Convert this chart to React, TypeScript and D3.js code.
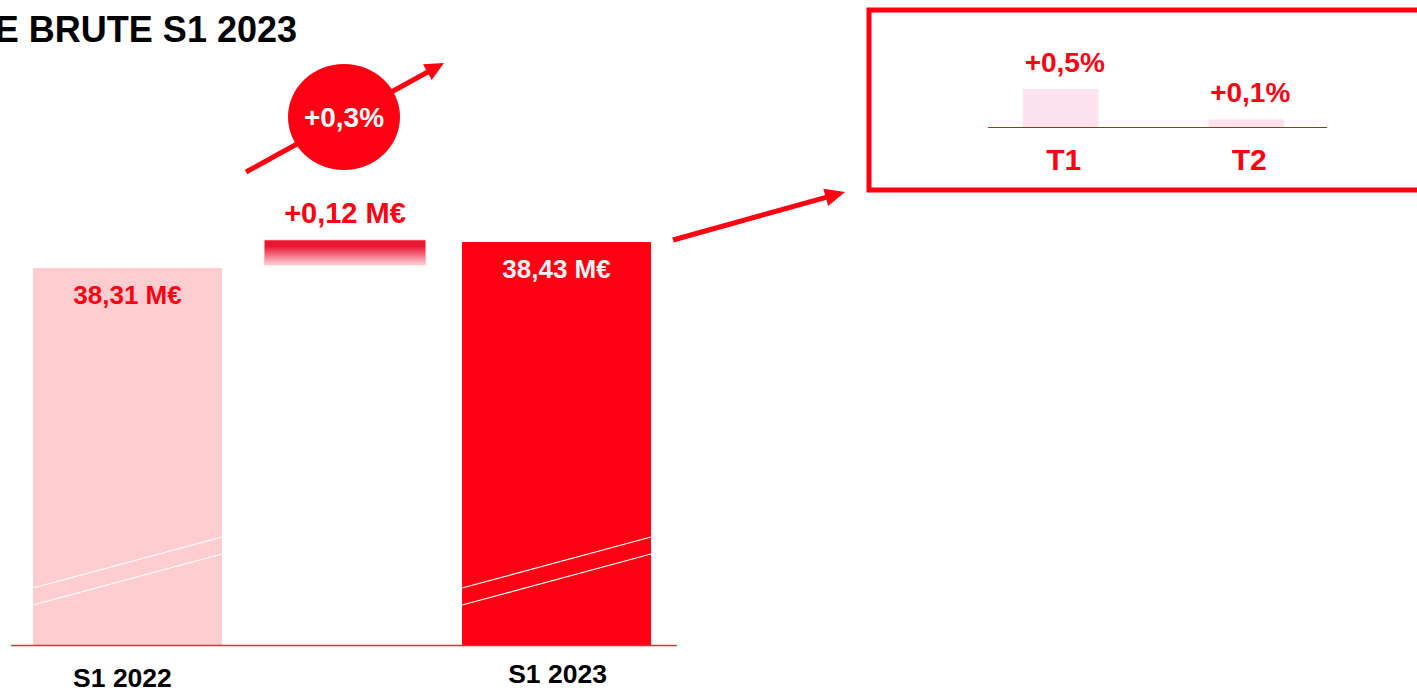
import React from "react";
import * as d3 from "d3";

// ---- data ----
const titleText = "E BRUTE S1 2023";
const periods = ["S1 2022", "S1 2023"];
const periodValues = [38.31, 38.43];
const periodValueLabels = ["38,31 M€", "38,43 M€"];
const deltaKey = "Δ";
const deltaLabel = "+0,12 M€";
const growthLabel = "+0,3%";
const quarters = ["T1", "T2"];
const quarterGrowth = [0.5, 0.1];
const quarterLabels = ["+0,5%", "+0,1%"];

const W = 1417;
const H = 688;
const RED = "#FF0013";
const PINK = "#FFCDD0";
const FONT = "'Liberation Sans', Arial, Helvetica, sans-serif";

function arrowHead(x1: number, y1: number, x2: number, y2: number, len: number, half: number) {
  const a = Math.atan2(y2 - y1, x2 - x1);
  const bx = x2 - len * Math.cos(a);
  const by = y2 - len * Math.sin(a);
  const px = -Math.sin(a);
  const py = Math.cos(a);
  return `${x2},${y2} ${bx + px * half},${by + py * half} ${bx - px * half},${by - py * half}`;
}

export default function App() {
  const baseY = 645;
  const cats = [periods[0], deltaKey, periods[1]];
  const x = d3.scaleBand<string>().domain(cats).range([33, 651]).paddingInner(0.119).paddingOuter(0);
  const bw = x.bandwidth();
  const y = d3.scaleLinear().domain([periodValues[0], periodValues[1]]).range([268, 242]);

  const deltaW = bw * 0.855;
  const deltaX = (x(deltaKey) as number) + bw / 2 - deltaW / 2 + 3;
  const deltaTop = y(periodValues[0] + (periodValues[1] - periodValues[0])) - 2;
  const deltaBottom = y(periodValues[0]) - 3;

  // inset
  const xq = d3.scaleBand<string>().domain(quarters).range([1023, 1284]).paddingInner(0.593).paddingOuter(0);
  const qbw = xq.bandwidth();
  const yq = d3.scaleLinear().domain([0, 0.5]).range([127, 89]);

  // arrows
  const a1 = { x1: 246, y1: 172, x2: 444, y2: 63 };
  const a2x1 = (x(periods[1]) as number) + bw + 22;
  const a2 = { x1: a2x1, y1: y(periodValues[1]) - 2, x2: 845, y2: 192 };

  const circle = { cx: 344, cy: 117 };

  return (
    <div style={{ position: "absolute", left: 0, top: 0, width: W, height: H, background: "#fff" }}>
      <svg width={W} height={H} viewBox={`0 0 ${W} ${H}`} style={{ display: "block" }}>
        <defs>
          <linearGradient id="deltaGrad" x1="0" y1="0" x2="0" y2="1">
            <stop offset="0%" stopColor="#EA1B33" />
            <stop offset="25%" stopColor="#E81530" />
            <stop offset="100%" stopColor="#FFD3DA" />
          </linearGradient>
        </defs>

        {/* title */}
        <text x={297} y={42} textAnchor="end" fontFamily={FONT} fontWeight="bold" fontSize={36} fill="#000">
          {titleText}
        </text>

        {/* main bars */}
        {periods.map((p, i) => {
          const bx = x(p) as number;
          const top = y(periodValues[i]);
          const fill = i === 0 ? PINK : RED;
          return (
            <g key={p}>
              <rect x={bx} y={top} width={bw} height={baseY - top} fill={fill} />
              <line x1={bx} y1={588} x2={bx + bw} y2={537} stroke="#fff" strokeWidth={1.2} />
              <line x1={bx} y1={605} x2={bx + bw} y2={554} stroke="#fff" strokeWidth={1.2} />
              <text
                x={bx + bw / 2}
                y={top + 36}
                textAnchor="middle"
                fontFamily={FONT}
                fontWeight="bold"
                fontSize={26}
                fill={i === 0 ? RED : "#F2F2F2"}
              >
                {periodValueLabels[i]}
              </text>
              <text
                x={bx + bw / 2 - 5 + i * 6}
                y={i === 0 ? 687 : 683}
                textAnchor="middle"
                fontFamily={FONT}
                fontWeight="bold"
                fontSize={26.5}
                fill="#000"
              >
                {p}
              </text>
            </g>
          );
        })}

        {/* delta bar */}
        <rect x={deltaX} y={deltaTop} width={deltaW} height={deltaBottom - deltaTop} fill="url(#deltaGrad)" stroke="#FFC0C8" strokeWidth={0.6} />
        <text x={deltaX + deltaW / 2} y={deltaTop - 17} textAnchor="middle" fontFamily={FONT} fontWeight="bold" fontSize={29} fill={RED}>
          {deltaLabel}
        </text>

        {/* baseline */}
        <line x1={11} y1={baseY + 0.5} x2={677} y2={baseY + 0.5} stroke="#FF2035" strokeWidth={1.6} />

        {/* arrow 1 with circle */}
        <line x1={a1.x1} y1={a1.y1} x2={a1.x1 + (a1.x2 - a1.x1) * 0.92} y2={a1.y1 + (a1.y2 - a1.y1) * 0.92} stroke={RED} strokeWidth={5} />
        <polygon points={arrowHead(a1.x1, a1.y1, a1.x2, a1.y2, 19, 9)} fill={RED} />
        <ellipse cx={circle.cx} cy={circle.cy} rx={56} ry={53} fill={RED} />
        <text x={circle.cx} y={circle.cy + 10} textAnchor="middle" fontFamily={FONT} fontWeight="bold" fontSize={28} fill="#fff">
          {growthLabel}
        </text>

        {/* arrow 2 */}
        <line x1={a2.x1} y1={a2.y1} x2={a2.x1 + (a2.x2 - a2.x1) * 0.9} y2={a2.y1 + (a2.y2 - a2.y1) * 0.9} stroke={RED} strokeWidth={5} />
        <polygon points={arrowHead(a2.x1, a2.y1, a2.x2, a2.y2, 20, 9)} fill={RED} />

        {/* inset box */}
        <rect x={869} y={10} width={W} height={180} fill="none" stroke={RED} strokeWidth={5} />
        {quarters.map((q, i) => {
          const qx = xq(q) as number;
          const top = yq(quarterGrowth[i]);
          return (
            <g key={q}>
              <rect x={qx} y={top} width={qbw} height={yq(0) - top} fill="#FDE3EE" />
              <text x={qx + qbw / 2 + 4} y={top - 17} textAnchor="middle" fontFamily={FONT} fontWeight="bold" fontSize={28} fill={RED}>
                {quarterLabels[i]}
              </text>
              <text x={qx + qbw / 2 + 3} y={170} textAnchor="middle" fontFamily={FONT} fontWeight="bold" fontSize={30} fill={RED}>
                {q}
              </text>
            </g>
          );
        })}
        <line x1={988} y1={yq(0) + 0.5} x2={1327} y2={yq(0) + 0.5} stroke={RED} strokeWidth={1.2} />
      </svg>
    </div>
  );
}
